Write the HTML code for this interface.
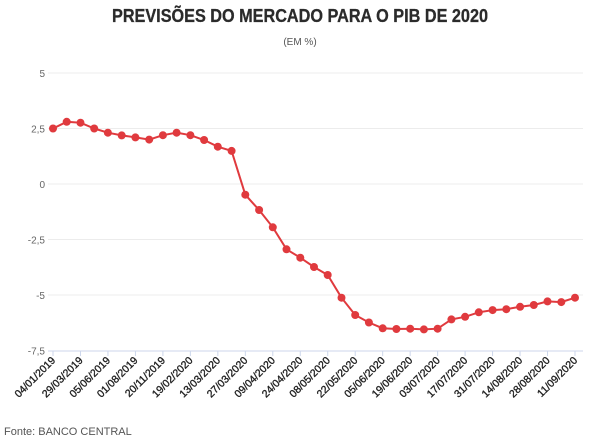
<!DOCTYPE html>
<html><head><meta charset="utf-8"><style>
html,body{margin:0;padding:0;background:#fff;width:606px;height:442px;overflow:hidden}
svg text{font-family:"Liberation Sans",sans-serif}
</style></head><body>
<svg id="s" width="606" height="442" viewBox="0 0 606 442" xmlns="http://www.w3.org/2000/svg">
<text x="300" y="22" text-anchor="middle" font-size="18" font-weight="bold" fill="#2b2b2b" stroke="#2b2b2b" stroke-width="0.3" textLength="376" lengthAdjust="spacingAndGlyphs">PREVISÕES DO MERCADO PARA O PIB DE 2020</text>
<text x="300" y="45" text-anchor="middle" font-size="10" fill="#555">(EM %)</text>
<text x="4" y="435" font-size="11" fill="#555">Fonte: BANCO CENTRAL</text>
<g id="g"></g>
</svg>
<script>
var g=document.getElementById('g'),h='';
function Y(v){return 184-v*22.2;}
[5,2.5,0,-2.5,-5].forEach(function(v){h+='<line x1="48" x2="583" y1="'+Y(v)+'" y2="'+Y(v)+'" stroke="#ececec" stroke-width="1"/>';});
[5,2.5,0,-2.5,-5,-7.5].forEach(function(v){h+='<text x="45" y="'+(Y(v)+4)+'" text-anchor="end" font-size="10" fill="#666">'+String(v).replace('.',',')+'</text>';});
h+='<line x1="48" x2="583" y1="351" y2="351" stroke="#ccd6eb" stroke-width="1"/>';
var labs=['04/01/2019','29/03/2019','05/06/2019','01/08/2019','20/11/2019','19/02/2020','13/03/2020','27/03/2020','09/04/2020','24/04/2020','08/05/2020','22/05/2020','05/06/2020','19/06/2020','03/07/2020','17/07/2020','31/07/2020','14/08/2020','28/08/2020','11/09/2020'];
var dx=522/38;
labs.forEach(function(l,i){var x=53+i*2*dx;h+='<line x1="'+x+'" x2="'+x+'" y1="351" y2="356" stroke="#ccd6eb"/>';
h+='<text transform="translate('+(x+3)+',361) rotate(-45)" text-anchor="end" font-size="10.5" fill="#222" stroke="#222" stroke-width="0.35">'+l+'</text>';});
var d=[2.5,2.8,2.76,2.5,2.31,2.19,2.1,2.0,2.2,2.31,2.2,1.98,1.68,1.49,-0.48,-1.17,-1.95,-2.94,-3.32,-3.74,-4.1,-5.12,-5.9,-6.24,-6.5,-6.53,-6.52,-6.55,-6.52,-6.1,-5.98,-5.78,-5.68,-5.64,-5.53,-5.45,-5.29,-5.32,-5.12];
var p=d.map(function(v,i){return (53+i*dx).toFixed(1)+','+Y(v).toFixed(1);});
h+='<polyline points="'+p.join(' ')+'" fill="none" stroke="#e03a3e" stroke-width="2"/>';
p.forEach(function(q){var a=q.split(',');h+='<circle cx="'+a[0]+'" cy="'+a[1]+'" r="4" fill="#e03a3e"/>';});
g.innerHTML=h;
</script>
</body></html>
